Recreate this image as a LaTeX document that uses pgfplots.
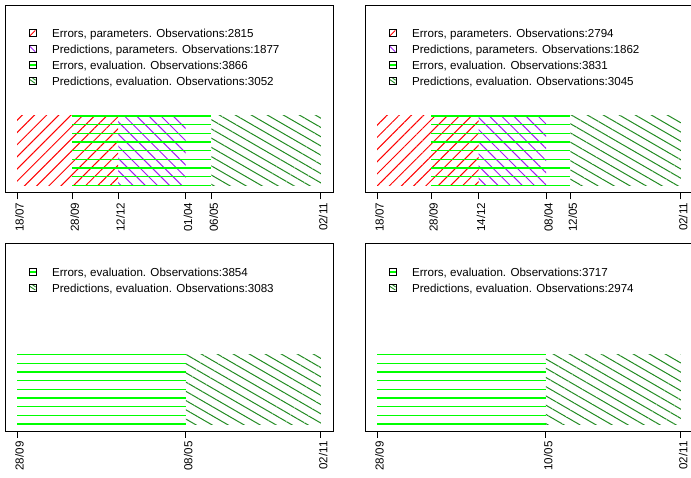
\documentclass[border=0pt]{standalone}
\usepackage{fontspec}
\setmainfont{Liberation Sans}
\usepackage{pgfplots}
\pgfplotsset{compat=1.18}
\usetikzlibrary{patterns.meta}
\definecolor{rpurple}{HTML}{A020F0}
\definecolor{rgreen}{HTML}{00FF00}
\definecolor{rdkgreen}{HTML}{228B22}
\tikzset{
 hA/.style={pattern={Lines[angle=45,distance=8.6pt,line width=1pt]},pattern color=red},
 hB/.style={pattern={Lines[angle=-45,distance=8.6pt,line width=1pt]},pattern color=rpurple},
 hD/.style={pattern={Lines[angle=-30,distance=8pt,line width=1pt]},pattern color=rdkgreen},
}
\pgfplotsset{
 panel/.style={
   scale only axis, width=328pt, height=187.3pt, anchor=south west,
   ymin=-0.1, ymax=2.6, ytick=\empty,
   xtick pos=left, tick align=outside, major tick length=7pt,
   tick style={black, line width=0.8pt},
   axis line style={black, line width=0.8pt},
   xticklabel style={rotate=90, anchor=east, text height=13pt, text depth=0pt,
     font=\fontsize{11.6}{13}\selectfont},
   legend cell align=left,
   legend style={draw=none, fill=none, inner sep=0pt, anchor=north west,
     at={(0.0716,0.8932)}, font=\fontsize{11.6}{13}\selectfont,
     row sep=0pt, column sep=15.5pt,
     nodes={inner sep=0pt, text height=12.15pt, text depth=3.85pt}},
 },
 legA/.style={legend image code/.code={\path[draw=red, fill=none, line width=0.9pt] (0.8pt,-2.7pt) -- (6.2pt,2.7pt);
    \path[draw=black, fill=none, line width=0.6pt] (0pt,-3.5pt) rectangle (7pt,3.5pt);}},
 legB/.style={legend image code/.code={\path[draw=rpurple, fill=none, line width=0.9pt] (0.8pt,2.7pt) -- (6.2pt,-2.7pt);
    \path[draw=black, fill=none, line width=0.6pt] (0pt,-3.5pt) rectangle (7pt,3.5pt);}},
 legC/.style={legend image code/.code={\path[draw=rgreen, fill=none, line width=1.5pt] (0.3pt,0pt) -- (6.7pt,0pt);
    \path[draw=black, fill=none, line width=0.6pt] (0pt,-3.5pt) rectangle (7pt,3.5pt);}},
 legD/.style={legend image code/.code={\path[draw=rdkgreen, fill=none, line width=0.9pt] (0.8pt,1.5pt) -- (6.2pt,-2.2pt);
    \path[draw=rdkgreen, fill=none, line width=0.9pt] (3.5pt,3pt) -- (6.5pt,1pt);
    \path[draw=black, fill=none, line width=0.6pt] (0pt,-3.5pt) rectangle (7pt,3.5pt);}},
 hC/.style={rgreen, line width=1.5pt, unbounded coords=jump, legC},
}
\begin{document}
\begin{tikzpicture}
% top left
\begin{axis}[panel, at={(5pt,285.7pt)}, xmin=-338.3, xmax=8796.3,
  xtick={0,1540,2815,4692,5406,8458},
  xticklabels={18/07,28/09,12/12,01/04,06/05,02/11}]
\addplot[hA, draw=none, legA] coordinates {(0,0) (2815,0) (2815,1) (0,1) (0,0)};
\addlegendentry{Errors, parameters. Observations:2815}
\addplot[hB, draw=none, legB] coordinates {(2815,0) (4692,0) (4692,1) (2815,1) (2815,0)};
\addlegendentry{Predictions, parameters. Observations:1877}
\addplot[hC] coordinates {(1540,0) (5406,0) (5406,nan) (1540,0.125) (5406,0.125) (5406,nan)
 (1540,0.25) (5406,0.25) (5406,nan) (1540,0.375) (5406,0.375) (5406,nan)
 (1540,0.5) (5406,0.5) (5406,nan) (1540,0.625) (5406,0.625) (5406,nan)
 (1540,0.75) (5406,0.75) (5406,nan) (1540,0.875) (5406,0.875) (5406,nan) (1540,1) (5406,1)};
\addlegendentry{Errors, evaluation. Observations:3866}
\addplot[hD, draw=none, legD] coordinates {(5406,0) (8458,0) (8458,1) (5406,1) (5406,0)};
\addlegendentry{Predictions, evaluation. Observations:3052}
\end{axis}
% top right
\begin{axis}[panel, at={(365pt,285.7pt)}, xmin=-334.5, xmax=8697.5,
  xtick={0,1487,2794,4656,5318,8363},
  xticklabels={18/07,28/09,14/12,08/04,12/05,02/11}]
\addplot[hA, draw=none, legA] coordinates {(0,0) (2794,0) (2794,1) (0,1) (0,0)};
\addlegendentry{Errors, parameters. Observations:2794}
\addplot[hB, draw=none, legB] coordinates {(2794,0) (4656,0) (4656,1) (2794,1) (2794,0)};
\addlegendentry{Predictions, parameters. Observations:1862}
\addplot[hC] coordinates {(1487,0) (5318,0) (5318,nan) (1487,0.125) (5318,0.125) (5318,nan)
 (1487,0.25) (5318,0.25) (5318,nan) (1487,0.375) (5318,0.375) (5318,nan)
 (1487,0.5) (5318,0.5) (5318,nan) (1487,0.625) (5318,0.625) (5318,nan)
 (1487,0.75) (5318,0.75) (5318,nan) (1487,0.875) (5318,0.875) (5318,nan) (1487,1) (5318,1)};
\addlegendentry{Errors, evaluation. Observations:3831}
\addplot[hD, draw=none, legD] coordinates {(5318,0) (8363,0) (8363,1) (5318,1) (5318,0)};
\addlegendentry{Predictions, evaluation. Observations:3045}
\end{axis}
% bottom left
\begin{axis}[panel, at={(5pt,47pt)}, xmin=-277.5, xmax=7214.5,
  xtick={0,3854,6937},
  xticklabels={28/09,08/05,02/11}]
\addplot[hC] coordinates {(0,0) (3854,0) (3854,nan) (0,0.125) (3854,0.125) (3854,nan)
 (0,0.25) (3854,0.25) (3854,nan) (0,0.375) (3854,0.375) (3854,nan)
 (0,0.5) (3854,0.5) (3854,nan) (0,0.625) (3854,0.625) (3854,nan)
 (0,0.75) (3854,0.75) (3854,nan) (0,0.875) (3854,0.875) (3854,nan) (0,1) (3854,1)};
\addlegendentry{Errors, evaluation. Observations:3854}
\addplot[hD, draw=none, legD] coordinates {(3854,0) (6937,0) (6937,1) (3854,1) (3854,0)};
\addlegendentry{Predictions, evaluation. Observations:3083}
\end{axis}
% bottom right
\begin{axis}[panel, at={(365pt,47pt)}, xmin=-267.6, xmax=6958.6,
  xtick={0,3717,6691},
  xticklabels={28/09,10/05,02/11}]
\addplot[hC] coordinates {(0,0) (3717,0) (3717,nan) (0,0.125) (3717,0.125) (3717,nan)
 (0,0.25) (3717,0.25) (3717,nan) (0,0.375) (3717,0.375) (3717,nan)
 (0,0.5) (3717,0.5) (3717,nan) (0,0.625) (3717,0.625) (3717,nan)
 (0,0.75) (3717,0.75) (3717,nan) (0,0.875) (3717,0.875) (3717,nan) (0,1) (3717,1)};
\addlegendentry{Errors, evaluation. Observations:3717}
\addplot[hD, draw=none, legD] coordinates {(3717,0) (6691,0) (6691,1) (3717,1) (3717,0)};
\addlegendentry{Predictions, evaluation. Observations:2974}
\end{axis}
\pgfresetboundingbox
\path[use as bounding box] (0,0) rectangle (691pt,478pt);
\end{tikzpicture}
\end{document}
